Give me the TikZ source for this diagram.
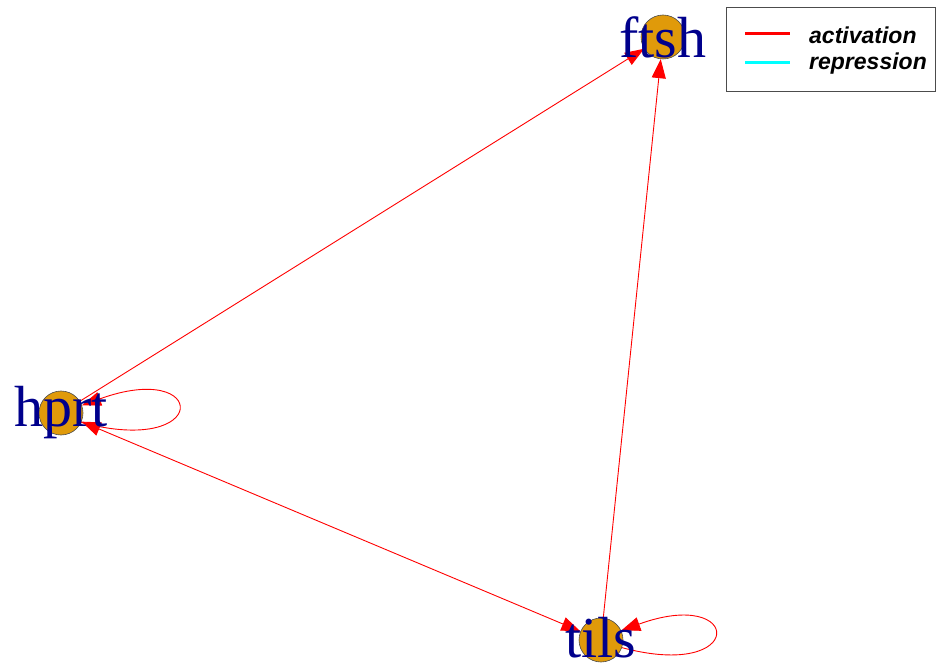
\documentclass[tikz,border=0pt]{standalone}
\usepackage{fontspec}
\setmainfont{Liberation Serif}
\newfontfamily\legfont{Liberation Sans}
\usetikzlibrary{arrows.meta}
\definecolor{vfill}{RGB}{224,154,10}
\definecolor{vlab}{RGB}{0,0,140}
\definecolor{cyanline}{RGB}{0,255,255}
\tikzset{
  vert/.style={circle,draw=black!70,line width=0.6pt,fill=vfill,minimum size=44pt,inner sep=0pt},
  vlabel/.style={text=vlab,font=\fontsize{58}{58}\selectfont,inner sep=0pt},
  edge/.style={draw=red,line width=0.9pt},
  tip/.style={-{Triangle[length=19pt,width=14pt]}},
  legtext/.style={font=\legfont\bfseries\itshape\fontsize{23}{23}\selectfont,anchor=west,inner sep=0pt}
}
\begin{document}
\begin{tikzpicture}[x=1pt,y=1pt]
\useasboundingbox (0,0) rectangle (937,-668);
% vertices
\node[vert] (ftsh) at (663,-37) {};
\node[vert] (hprt) at (61,-413) {};
\node[vert] (tils) at (601,-640) {};
% edges
\draw[edge,tip] (hprt) -- (ftsh);
\draw[edge,tip] (tils) -- (ftsh);
\draw[edge,{Triangle[length=19pt,width=14pt]}-{Triangle[length=19pt,width=14pt]}] (hprt) -- (tils);
\draw[edge,tip] (hprt.-25) .. controls +(-15:135) and +(20:135) .. (hprt.20);
\draw[edge,tip] (tils.-20) .. controls +(-15:130) and +(20:130) .. (tils.25);
% labels
\node[vlabel] (lftsh) at (663,-37) {ftsh};
\node[vlabel] (lhprt) at (61,-413) {hprt};
\node[vlabel] (ltils) at (601,-638) {tils};
% legend
\node[draw=black!70,line width=0.8pt,minimum width=209pt,minimum height=84pt,inner sep=0pt,anchor=north west] (leg) at (726,-7) {};
\coordinate (a1) at (745,-34);
\coordinate (a2) at (790,-34);
\coordinate (r1) at (745,-63);
\coordinate (r2) at (790,-63);
\draw[red,line width=3pt] (a1) -- (a2);
\draw[cyanline,line width=3pt] (r1) -- (r2);
\node[legtext] (lact) at (809,-35) {activation};
\node[legtext] (lrep) at (809,-64) {repression};
\end{tikzpicture}
\end{document}
